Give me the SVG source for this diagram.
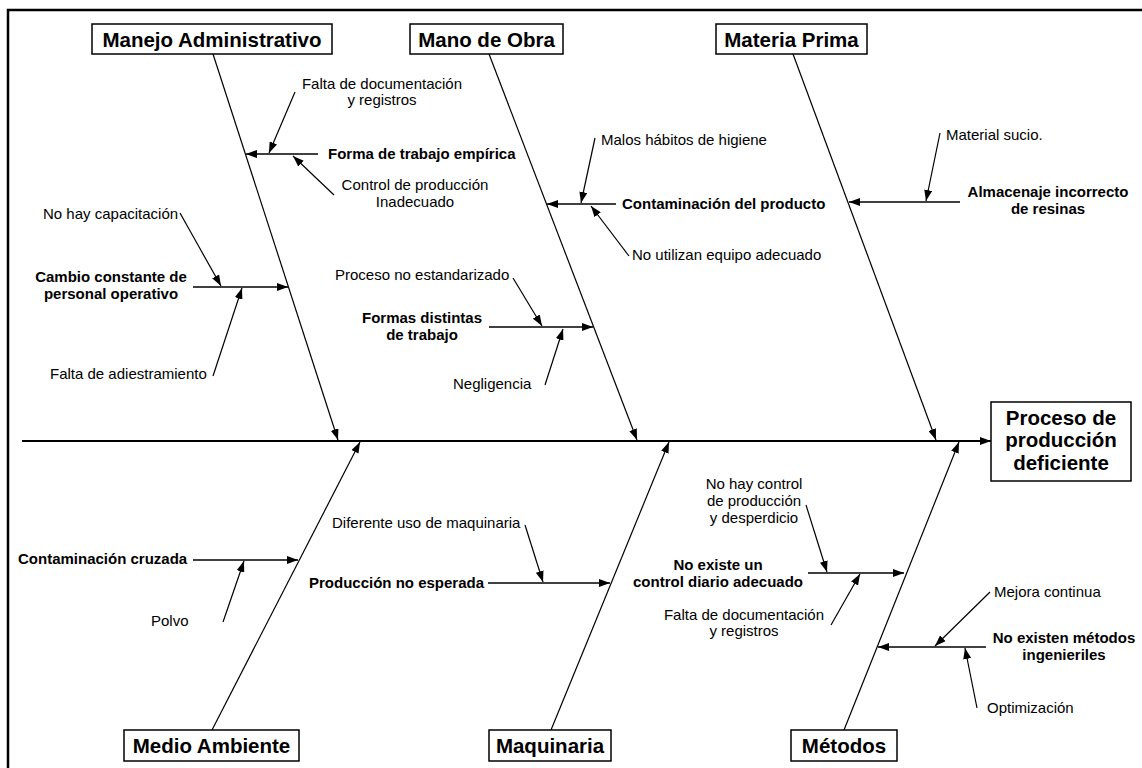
<svg xmlns="http://www.w3.org/2000/svg" width="1142" height="768" viewBox="0 0 1142 768">
<defs>
<style>
.frame{fill:none;stroke:#000;stroke-width:2.5}
.box{fill:#fff;stroke:#000;stroke-width:1.5}
.title{font-family:"Liberation Sans",Arial,sans-serif;font-weight:bold;font-size:20.5px;text-anchor:middle;fill:#000}
.lb{font-family:"Liberation Sans",Arial,sans-serif;font-weight:bold;font-size:15px;fill:#000}
.lr{font-family:"Liberation Sans",Arial,sans-serif;font-size:15px;fill:#000}
.mid{text-anchor:middle}
.spine{stroke:#000;stroke-width:1.8;fill:none;marker-end:url(#ah)}
.main{stroke:#000;stroke-width:1.2;fill:none;marker-end:url(#ah)}
.cause{stroke:#000;stroke-width:1.6;fill:none;marker-end:url(#ah)}
.sub{stroke:#000;stroke-width:1.2;fill:none;marker-end:url(#ah)}
</style>
<marker id="ah" markerUnits="userSpaceOnUse" markerWidth="11" markerHeight="8" refX="11" refY="4" orient="auto">
<path d="M0,0 L11,4 L0,8 z" fill="#000"/>
</marker>
</defs>
<rect width="1142" height="768" fill="#fff"/>
<path class="frame" d="M8,768 V10 H1142"/>

<g id="connectors">
<line class="spine" x1="22" y1="441" x2="991" y2="441"/>
<line class="main" x1="213" y1="54" x2="338" y2="440"/>
<line class="main" x1="489" y1="54" x2="637" y2="440"/>
<line class="main" x1="793" y1="54" x2="936" y2="440"/>
<line class="main" x1="212" y1="730" x2="360" y2="442"/>
<line class="main" x1="551" y1="730" x2="669" y2="442"/>
<line class="main" x1="844" y1="730" x2="959" y2="442"/>

<line class="cause" x1="318" y1="154" x2="246" y2="154"/>
<line class="cause" x1="193" y1="287" x2="288" y2="287"/>
<line class="cause" x1="616" y1="204" x2="547" y2="204"/>
<line class="cause" x1="489" y1="327" x2="593" y2="327"/>
<line class="cause" x1="960" y1="202" x2="849" y2="202"/>
<line class="cause" x1="193" y1="560" x2="298" y2="560"/>
<line class="cause" x1="488" y1="583" x2="610" y2="583"/>
<line class="cause" x1="808" y1="573" x2="904" y2="573"/>
<line class="cause" x1="986" y1="647" x2="878" y2="647"/>

<line class="sub" x1="295" y1="92" x2="269" y2="153"/>
<line class="sub" x1="334" y1="195" x2="293" y2="156"/>
<line class="sub" x1="180" y1="213" x2="221" y2="286"/>
<line class="sub" x1="213" y1="376" x2="242" y2="288"/>
<line class="sub" x1="595" y1="138" x2="581" y2="203"/>
<line class="sub" x1="629" y1="256" x2="591" y2="206"/>
<line class="sub" x1="513" y1="278" x2="542" y2="326"/>
<line class="sub" x1="545" y1="385" x2="563" y2="329"/>
<line class="sub" x1="940" y1="133" x2="926" y2="201"/>
<line class="sub" x1="223" y1="622" x2="244" y2="561"/>
<line class="sub" x1="525" y1="525" x2="543" y2="582"/>
<line class="sub" x1="806" y1="505" x2="827" y2="572"/>
<line class="sub" x1="831" y1="625" x2="860" y2="574"/>
<line class="sub" x1="990" y1="592" x2="935" y2="646"/>
<line class="sub" x1="977" y1="708" x2="965" y2="648"/>
</g>

<g id="manejo-administrativo">
<rect class="box" x="92" y="24" width="240" height="30"/>
<text class="title" x="212" y="46.5">Manejo Administrativo</text>
</g>
<g id="mano-de-obra">
<rect class="box" x="410" y="24" width="153" height="30"/>
<text class="title" x="486.5" y="46.5">Mano de Obra</text>
</g>
<g id="materia-prima">
<rect class="box" x="716" y="24" width="151" height="30"/>
<text class="title" x="791.5" y="46.5">Materia Prima</text>
</g>
<g id="medio-ambiente">
<rect class="box" x="124" y="730" width="175" height="31"/>
<text class="title" x="211.5" y="753">Medio Ambiente</text>
</g>
<g id="maquinaria">
<rect class="box" x="489" y="730" width="122" height="31"/>
<text class="title" x="550" y="753">Maquinaria</text>
</g>
<g id="metodos">
<rect class="box" x="791" y="730" width="106" height="31"/>
<text class="title" x="844" y="753">Métodos</text>
</g>
<g id="efecto">
<rect class="box" x="991" y="402" width="140" height="79"/>
<text class="title" x="1061" y="425">Proceso de</text>
<text class="title" x="1061" y="447">producción</text>
<text class="title" x="1061" y="470">deficiente</text>
</g>

<g id="forma-trabajo">
<text class="lb" x="328" y="159">Forma de trabajo empírica</text>
</g>
<g id="falta-doc-1">
<text class="lr mid" x="382" y="89">Falta de documentación</text>
<text class="lr mid" x="382" y="105">y registros</text>
</g>
<g id="control-produccion">
<text class="lr mid" x="415" y="190">Control de producción</text>
<text class="lr mid" x="415" y="207">Inadecuado</text>
</g>
<g id="cambio-personal">
<text class="lb mid" x="111" y="282">Cambio constante de</text>
<text class="lb mid" x="111" y="299">personal operativo</text>
</g>
<g id="no-capacitacion">
<text class="lr" x="43" y="219">No hay capacitación</text>
</g>
<g id="falta-adiestramiento">
<text class="lr" x="50" y="379">Falta de adiestramiento</text>
</g>
<g id="contaminacion-producto">
<text class="lb" x="622" y="209">Contaminación del producto</text>
</g>
<g id="malos-habitos">
<text class="lr" x="601" y="145">Malos hábitos de higiene</text>
</g>
<g id="no-equipo">
<text class="lr" x="632" y="260">No utilizan equipo adecuado</text>
</g>
<g id="formas-distintas">
<text class="lb mid" x="422" y="323">Formas distintas</text>
<text class="lb mid" x="422" y="340">de trabajo</text>
</g>
<g id="proceso-no-estandarizado">
<text class="lr" x="335" y="280">Proceso no estandarizado</text>
</g>
<g id="negligencia">
<text class="lr" x="453" y="389">Negligencia</text>
</g>
<g id="almacenaje">
<text class="lb mid" x="1048" y="197">Almacenaje incorrecto</text>
<text class="lb mid" x="1048" y="214">de resinas</text>
</g>
<g id="material-sucio">
<text class="lr" x="946" y="140">Material sucio.</text>
</g>
<g id="contaminacion-cruzada">
<text class="lb" x="18" y="564">Contaminación cruzada</text>
</g>
<g id="polvo">
<text class="lr" x="151" y="626">Polvo</text>
</g>
<g id="produccion-no-esperada">
<text class="lb" x="309" y="588">Producción no esperada</text>
</g>
<g id="diferente-uso">
<text class="lr" x="332" y="528">Diferente uso de maquinaria</text>
</g>
<g id="control-diario">
<text class="lb mid" x="718" y="570">No existe un</text>
<text class="lb mid" x="718" y="587">control diario adecuado</text>
</g>
<g id="no-control-produccion">
<text class="lr mid" x="754" y="489">No hay control</text>
<text class="lr mid" x="754" y="506">de producción</text>
<text class="lr mid" x="754" y="523">y desperdicio</text>
</g>
<g id="falta-doc-2">
<text class="lr mid" x="744" y="620">Falta de documentación</text>
<text class="lr mid" x="744" y="636">y registros</text>
</g>
<g id="metodos-ingenieriles">
<text class="lb mid" x="1064" y="643">No existen métodos</text>
<text class="lb mid" x="1064" y="660">ingenieriles</text>
</g>
<g id="mejora-continua">
<text class="lr" x="994" y="597">Mejora continua</text>
</g>
<g id="optimizacion">
<text class="lr" x="987" y="713">Optimización</text>
</g>
</svg>
